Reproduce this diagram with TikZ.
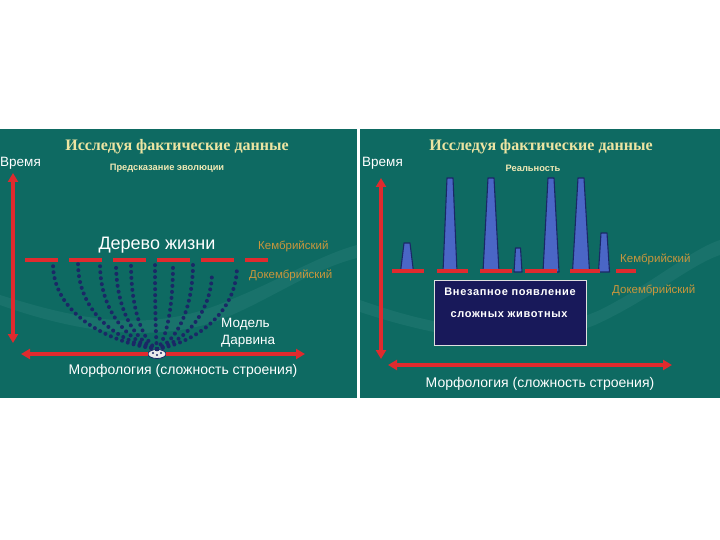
\documentclass[tikz,border=0pt]{standalone}
\usepackage{fontspec}
\setmainfont{Liberation Sans}
\newfontfamily\ttlfont{Liberation Serif}
\usetikzlibrary{arrows.meta,shapes.geometric}
\definecolor{panel}{HTML}{0E6A62}
\definecolor{panellight}{HTML}{3C8C86}
\definecolor{cream}{HTML}{ECE4A2}
\definecolor{ochre}{HTML}{C9963C}
\definecolor{redl}{HTML}{E02A2E}
\definecolor{navy}{HTML}{1A2866}
\definecolor{barfill}{HTML}{4A66C6}
\definecolor{boxfill}{HTML}{18195A}
\begin{document}
\begin{tikzpicture}[x=1pt,y=-1pt,
  ttl/.style={inner sep=0pt, text=cream, font=\ttlfont\bfseries\fontsize{16}{18}\selectfont},
  sub/.style={inner sep=0pt, text=cream!80!white, font=\bfseries\fontsize{9.3}{11}\selectfont},
  wlbl/.style={inner sep=0pt, text=white, font=\fontsize{13.5}{15}\selectfont},
  mlbl/.style={inner sep=0pt, text=white, font=\fontsize{14}{16}\selectfont},
  olbl/.style={inner sep=0pt, text=ochre, font=\fontsize{11.5}{13}\selectfont},
  boxtxt/.style={inner sep=0pt, text=white, font=\bfseries\fontsize{11}{13}\selectfont\addfontfeatures{LetterSpace=6}},
  redline/.style={draw=redl, line width=3.6pt},
  redarrow/.style={redline, {Triangle[length=9pt,width=10pt]}-{Triangle[length=9pt,width=10pt]}},
  redhead/.style={redline, -{Triangle[length=9pt,width=10pt]}},
  redseg/.style={draw=redl, line width=4pt},
  branch/.style={draw=navy, line width=4pt, line cap=round, dash pattern=on 0pt off 6pt},
  bar/.style={fill=barfill, draw=navy, line width=1.1pt, line join=round}]
\fill[white] (0,0) rectangle (720,540);
\useasboundingbox (0,0) rectangle (720,540);
% panels
\fill[panel] (0,129) rectangle (357,398);
\fill[panel] (359.5,129) rectangle (720,398);
% faint background bands
\begin{scope}
\clip (0,129) rectangle (357,398);
\fill[panellight, opacity=0.25] (0,295) .. controls (80,320) and (150,335) .. (230,300) .. controls (280,280) and (320,255) .. (357,245) -- (357,258) .. controls (310,270) and (270,300) .. (220,320) .. controls (150,345) and (70,330) .. (0,305) -- cycle;
\end{scope}
\begin{scope}
\clip (359.5,129) rectangle (720,398);
\fill[panellight, opacity=0.25] (360,300) .. controls (430,325) and (520,345) .. (600,310) .. controls (650,285) and (690,250) .. (720,240) -- (720,255) .. controls (690,265) and (650,300) .. (595,325) .. controls (520,355) and (430,335) .. (360,312) -- cycle;
\end{scope}

% ---------------- left panel ----------------
\node[ttl] (t1) at (177,147) {Исследуя фактические данные};
\node[wlbl, anchor=west] (time1) at (0,163) {Время};
\node[sub] (pred) at (167,168) {Предсказание эволюции};
\node[wlbl, font=\fontsize{18}{20}\selectfont] (tree) at (157,245) {Дерево жизни};
\node[olbl, anchor=west] (camb1) at (258,246) {Кембрийский};
\node[olbl, anchor=west] (pcamb1) at (249,275) {Докембрийский};
\node[wlbl, anchor=west, align=left, font=\fontsize{13.5}{16.5}\selectfont] (darwin) at (221,333) {Модель\\Дарвина};
\node[mlbl] (morph1) at (183,371) {Морфология (сложность строения)};

% tree
\node[ellipse, draw=navy, line width=0.8pt, fill=white!85!gray, minimum width=18pt, minimum height=9pt, inner sep=0pt] (root) at (157,354) {};
\foreach \tx/\ty [count=\i] in {53/264,78/263,100/264,116/263,131/264,155/263,173/264,193/263,212/272,237/266}{
  \coordinate (tip\i) at (\tx,\ty);
  \draw[branch] (root.north) .. controls ({157+0.5*(\tx-157)},342) and (\tx,312) .. (tip\i);
}
\fill[navy] (153,353) circle (1.2pt) (157,355) circle (1.2pt) (161,353) circle (1.2pt);

% dashed red line
\coordinate (dl) at (25,260);
\coordinate (dr) at (268,260);
\draw[draw=redl, line width=4pt, dash pattern=on 33pt off 11pt] (dl) -- (dr);

% arrows
\coordinate (v1t) at (13,173);
\coordinate (v1b) at (13,343);
\draw[redarrow] (v1b) -- (v1t);
\coordinate (h1l) at (21,354);
\coordinate (h1r) at (305,354);
\draw[redhead] (root.west) -- (h1l);
\draw[redhead] (root.east) -- (h1r);

% ---------------- right panel ----------------
\node[ttl] (t2) at (541,147) {Исследуя фактические данные};
\node[wlbl, anchor=west] (time2) at (362,163) {Время};
\node[sub] (real) at (533,168) {Реальность};
\node[olbl, anchor=west] (camb2) at (620,259) {Кембрийский};
\node[olbl, anchor=west] (pcamb2) at (612,290) {Докембрийский};

% bars
\foreach \cx/\ty/\hb/\ht in {407/243/6.5/3,450/178/7/3,491/178/8/3,518/248/4/2.5,551/178/8/3,581/178/8.5/3,604/233/5.5/3}{
  \draw[bar] ({\cx-\hb},272) -- ({\cx-\ht},\ty) -- ({\cx+\ht},\ty) -- ({\cx+\hb},272) -- cycle;
}
% red segments
\foreach \a/\b [count=\i] in {392/424,437/468,480/512,525/557,570/600,616/636}{
  \coordinate (sa\i) at (\a,271);
  \coordinate (sb\i) at (\b,271);
  \draw[redseg] (sa\i) -- (sb\i);
}

% box
\node[draw=white!75!gray, line width=0.8pt, fill=boxfill, minimum width=152pt, minimum height=65pt, inner sep=0pt] (box) at (510.5,313) {};
\node[boxtxt] (b1) at (510,292) {Внезапное появление};
\node[boxtxt] (b2) at (509,315) {сложных животных};

% arrows
\coordinate (v2t) at (381,178);
\coordinate (v2b) at (381,359);
\draw[redarrow] (v2b) -- (v2t);
\coordinate (h2l) at (388,365);
\coordinate (h2r) at (672,365);
\draw[redarrow] (h2l) -- (h2r);
\node[mlbl] (morph2) at (540,384) {Морфология (сложность строения)};
\end{tikzpicture}
\end{document}
